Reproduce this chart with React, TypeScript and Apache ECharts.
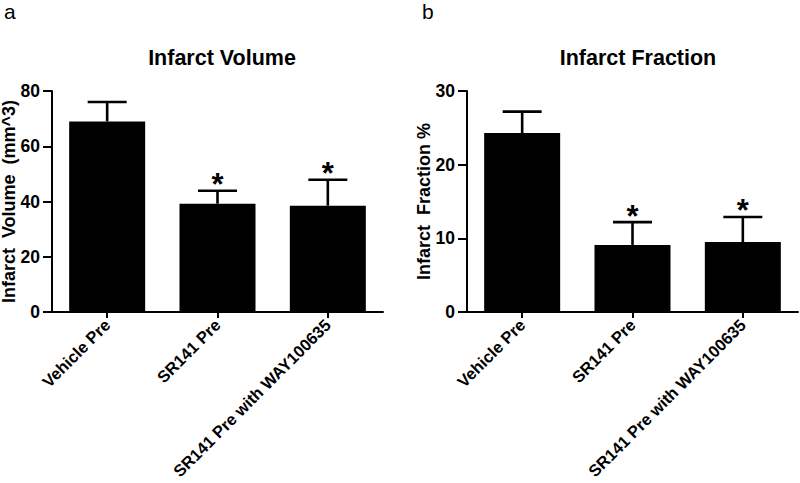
import React, { useEffect, useRef } from "react";
import * as echarts from "echarts";

const categories = ["Vehicle Pre", "SR141 Pre", "SR141 Pre with WAY100635"];
const volumeMeans = [69, 39.2, 38.5];
const volumeErrors = [7, 4.7, 9.4];
const fractionMeans = [24.3, 9.1, 9.5];
const fractionErrors = [2.9, 3.1, 3.4];
const significant = [false, true, true];

const volumeAxis = { min: 0, max: 80, interval: 20 };
const fractionAxis = { min: 0, max: 30, interval: 10 };

const FONT = "Arial, 'Liberation Sans', Helvetica, sans-serif";

function errorSeries(axisIndex: number, means: number[], errors: number[]) {
  return {
    type: "custom",
    xAxisIndex: axisIndex,
    yAxisIndex: axisIndex,
    z: 5,
    clip: false,
    data: means.map((m, i) => [i, m, errors[i], significant[i] ? 1 : 0]),
    encode: { x: 0, y: 1 },
    renderItem: (params: any, api: any) => {
      const idx = api.value(0);
      const mean = api.value(1);
      const err = api.value(2);
      const sig = api.value(3);
      const base = api.coord([idx, mean]);
      const top = api.coord([idx, mean + err]);
      const half = 19.5;
      const lineStyle = { stroke: "#000", lineWidth: 2.6 };
      const children: any[] = [
        { type: "line", shape: { x1: base[0], y1: base[1], x2: top[0], y2: top[1] }, style: lineStyle },
        { type: "line", shape: { x1: top[0] - half, y1: top[1], x2: top[0] + half, y2: top[1] }, style: lineStyle },
      ];
      if (sig) {
        children.push({
          type: "text",
          x: top[0],
          y: top[1] - 6,
          style: {
            text: "*",
            fill: "#000",
            font: `bold 31px ${FONT}`,
            textAlign: "center",
            textVerticalAlign: "middle",
          },
        });
      }
      return { type: "group", children };
    },
  };
}

function xAxisCfg(gridIndex: number) {
  return {
    type: "category",
    gridIndex,
    data: categories,
    axisLine: { show: true, lineStyle: { color: "#000", width: 2 } },
    axisTick: { show: true, alignWithLabel: true, length: 6, lineStyle: { color: "#000", width: 2 } },
    axisLabel: {
      rotate: 45,
      interval: 0,
      margin: 10,
      color: "#000",
      fontWeight: "bold",
      fontSize: 16.5,
      fontFamily: FONT,
    },
  };
}

function yAxisCfg(gridIndex: number, name: string, ax: { min: number; max: number; interval: number }) {
  return {
    type: "value",
    gridIndex,
    min: ax.min,
    max: ax.max,
    interval: ax.interval,
    name,
    nameLocation: "middle",
    nameRotate: 90,
    nameGap: 34,
    nameMoveOverlap: false,
    nameTextStyle: { color: "#000", fontWeight: "bold", fontSize: 18, fontFamily: FONT },
    splitLine: { show: false },
    axisLine: { show: true, lineStyle: { color: "#000", width: 2 } },
    axisTick: { show: true, length: 9, lineStyle: { color: "#000", width: 2 } },
    axisLabel: { margin: 12, color: "#000", fontWeight: "bold", fontSize: 17.5, fontFamily: FONT },
  };
}

export default function App() {
  const ref = useRef<HTMLDivElement>(null);
  useEffect(() => {
    if (!ref.current) return;
    const chart = echarts.init(ref.current, undefined, { renderer: "svg" });
    chart.setOption({
      animation: false,
      backgroundColor: "#fff",
      title: [
        {
          text: "Infarct Volume",
          left: 217,
          top: 42,
          textAlign: "center",
          textStyle: { color: "#000", fontWeight: "bold", fontSize: 21.5, fontFamily: FONT },
        },
        {
          text: "Infarct Fraction",
          left: 633,
          top: 42,
          textAlign: "center",
          textStyle: { color: "#000", fontWeight: "bold", fontSize: 21.5, fontFamily: FONT },
        },
      ],
      graphic: [
        { type: "text", left: 4, top: 1, style: { text: "a", fill: "#000", font: `21px ${FONT}` } },
        { type: "text", left: 422, top: 1, style: { text: "b", fill: "#000", font: `21px ${FONT}` } },
      ],
      grid: [
        { left: 52, top: 91, width: 331, height: 221, containLabel: false, outerBoundsMode: "none" },
        { left: 467, top: 91, width: 331, height: 221, containLabel: false, outerBoundsMode: "none" },
      ],
      xAxis: [xAxisCfg(0), xAxisCfg(1)],
      yAxis: [
        yAxisCfg(0, "Infarct  Volume  (mm^3)", volumeAxis),
        yAxisCfg(1, "Infarct  Fraction %", fractionAxis),
      ],
      series: [
        {
          type: "bar",
          xAxisIndex: 0,
          yAxisIndex: 0,
          data: volumeMeans,
          barWidth: 76,
          itemStyle: { color: "#000" },
        },
        {
          type: "bar",
          xAxisIndex: 1,
          yAxisIndex: 1,
          data: fractionMeans,
          barWidth: 76,
          itemStyle: { color: "#000" },
        },
        errorSeries(0, volumeMeans, volumeErrors),
        errorSeries(1, fractionMeans, fractionErrors),
      ],
    });
    return () => chart.dispose();
  }, []);
  return (
    <div
      ref={ref}
      style={{ position: "absolute", left: 0, top: 0, width: 800, height: 483, background: "#fff" }}
    />
  );
}
